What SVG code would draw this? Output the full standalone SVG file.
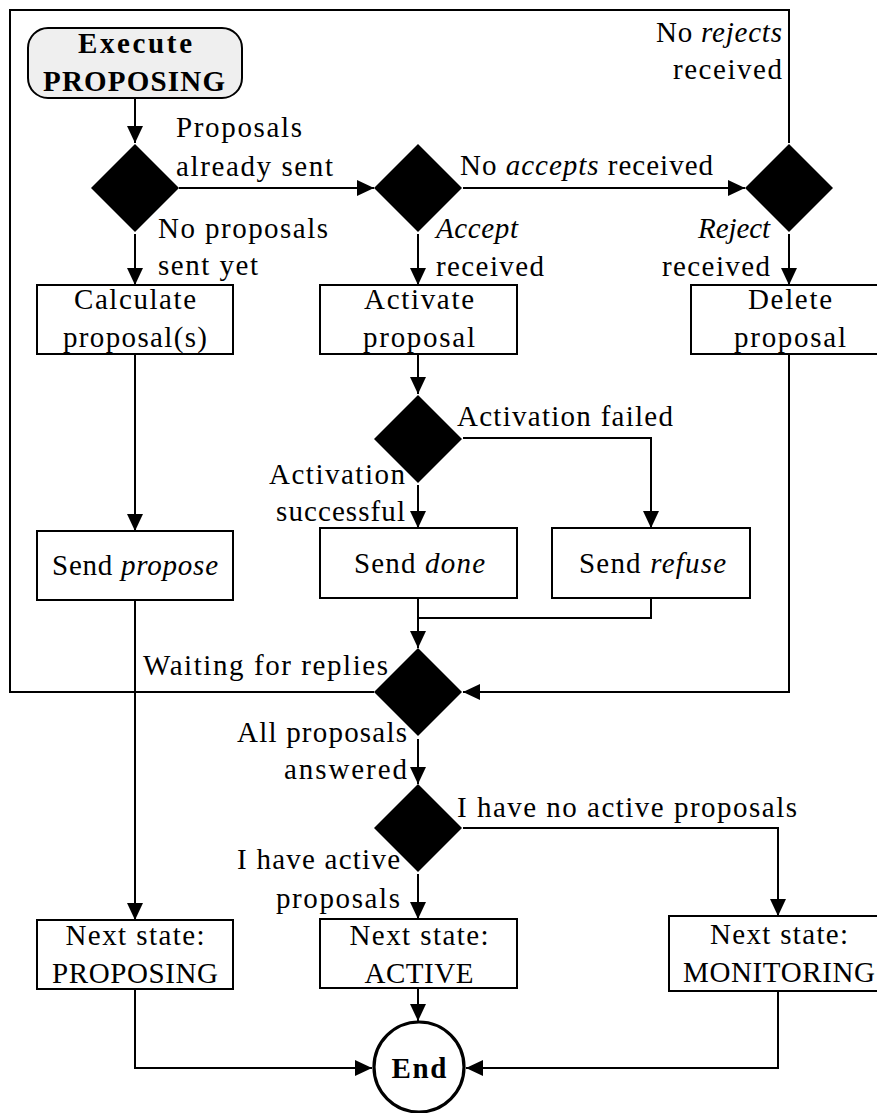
<svg xmlns="http://www.w3.org/2000/svg" width="877" height="1113" viewBox="0 0 877 1113">
  <style>
    text { font-family: "Liberation Serif", "Times New Roman", serif; font-size: 29px; fill: #000; }
    .b { font-weight: bold; }
    .m { text-anchor: middle; }
    .e { text-anchor: end; }
    .i { font-style: italic; }
    .box { fill: #fff; stroke: #000; stroke-width: 2; }
    .start { fill: #efefef; stroke: #000; stroke-width: 2; }
    .dec { fill: #000; }
    .end { fill: #fff; stroke: #000; stroke-width: 3.2; }
    .edge { fill: none; stroke: #000; stroke-width: 2; }
  </style>
  <defs>
    <marker id="arrow" markerUnits="userSpaceOnUse" markerWidth="18" markerHeight="16" refX="17" refY="8" orient="auto">
      <path d="M0,0 L17,8 L0,16 Z" fill="#000"/>
    </marker>
  </defs>

  <!-- connectors -->
  <g id="connectors">
    <path class="edge" d="M135,98 V143" marker-end="url(#arrow)"/>
    <path class="edge" d="M179,188 H374" marker-end="url(#arrow)"/>
    <path class="edge" d="M463,188 H745" marker-end="url(#arrow)"/>
    <path class="edge" d="M135,234 V285" marker-end="url(#arrow)"/>
    <path class="edge" d="M418,234 V285" marker-end="url(#arrow)"/>
    <path class="edge" d="M789,234 V285" marker-end="url(#arrow)"/>
    <path class="edge" d="M418,354 V394" marker-end="url(#arrow)"/>
    <path class="edge" d="M418,485 V528" marker-end="url(#arrow)"/>
    <path class="edge" d="M463,438 H651 V528" marker-end="url(#arrow)"/>
    <path class="edge" d="M135,354 V531" marker-end="url(#arrow)"/>
    <path class="edge" d="M418,598 V648" marker-end="url(#arrow)"/>
    <path class="edge" d="M651,598 V618 H418"/>
    <path class="edge" d="M789,354 V692 H463" marker-end="url(#arrow)"/>
    <path class="edge" d="M374,692 H10 V10 H789 V143"/>
    <path class="edge" d="M135,600 V920" marker-end="url(#arrow)"/>
    <path class="edge" d="M418,739 V784" marker-end="url(#arrow)"/>
    <path class="edge" d="M463,828 H778 V916" marker-end="url(#arrow)"/>
    <path class="edge" d="M418,874 V919" marker-end="url(#arrow)"/>
    <path class="edge" d="M418,988 V1021" marker-end="url(#arrow)"/>
    <path class="edge" d="M135,989 V1068 H372" marker-end="url(#arrow)"/>
    <path class="edge" d="M778,991 V1068 H466" marker-end="url(#arrow)"/>
  </g>

  <!-- start node -->
  <g id="start">
    <rect class="start" x="28" y="28" width="214" height="70" rx="20"/>
    <text class="b m" x="135" y="53" textLength="114">Execute</text>
    <text class="b m" x="134" y="91" textLength="182">PROPOSING</text>
  </g>

  <!-- decisions -->
  <g id="d-sent">
    <path class="dec" d="M135,144 L179,188 L135,232 L91,188 Z"/>
    <text x="176" y="137" textLength="126">Proposals</text>
    <text x="176" y="176" textLength="157">already sent</text>
    <text x="158" y="238" textLength="170">No proposals</text>
    <text x="158" y="275" textLength="100">sent yet</text>
  </g>
  <g id="d-accept">
    <path class="dec" d="M418,144 L462,188 L418,232 L374,188 Z"/>
    <text x="460" y="175" textLength="253">No <tspan class="i">accepts</tspan> received</text>
    <text class="i" x="436" y="238" textLength="82">Accept</text>
    <text x="436" y="276" textLength="108">received</text>
  </g>
  <g id="d-reject">
    <path class="dec" d="M789,144 L833,188 L789,232 L745,188 Z"/>
    <text class="i e" x="770" y="238" textLength="72">Reject</text>
    <text class="e" x="770" y="276" textLength="108">received</text>
    <text class="e" x="782" y="42" textLength="126">No <tspan class="i">rejects</tspan></text>
    <text class="e" x="782" y="79" textLength="109">received</text>
  </g>
  <g id="d-activation">
    <path class="dec" d="M418,395 L462,439 L418,483 L374,439 Z"/>
    <text x="457" y="426" textLength="216">Activation failed</text>
    <text class="e" x="405" y="484" textLength="136">Activation</text>
    <text class="e" x="405" y="521" textLength="129">successful</text>
  </g>
  <g id="d-waiting">
    <path class="dec" d="M418,648 L462,692 L418,736 L374,692 Z"/>
    <text x="143" y="675" textLength="245">Waiting for replies</text>
    <text class="e" x="407" y="742" textLength="170">All proposals</text>
    <text class="e" x="407" y="779" textLength="123">answered</text>
  </g>
  <g id="d-active">
    <path class="dec" d="M418,784 L462,828 L418,872 L374,828 Z"/>
    <text x="457" y="817" textLength="340">I have no active proposals</text>
    <text class="e" x="400" y="869" textLength="163">I have active</text>
    <text class="e" x="400" y="908" textLength="124">proposals</text>
  </g>

  <!-- actions -->
  <g id="calculate">
    <rect class="box" x="37" y="285" width="196" height="69"/>
    <text class="m" x="135" y="309" textLength="122">Calculate</text>
    <text class="m" x="135" y="347" textLength="144">proposal(s)</text>
  </g>
  <g id="activate">
    <rect class="box" x="320" y="285" width="197" height="69"/>
    <text class="m" x="419" y="309" textLength="110">Activate</text>
    <text class="m" x="419" y="347" textLength="112">proposal</text>
  </g>
  <g id="delete">
    <rect class="box" x="691" y="285" width="197" height="69"/>
    <text class="m" x="790" y="309" textLength="84">Delete</text>
    <text class="m" x="790" y="347" textLength="112">proposal</text>
  </g>
  <g id="send-propose">
    <rect class="box" x="37" y="531" width="196" height="69"/>
    <text x="52" y="575" textLength="166">Send <tspan class="i">propose</tspan></text>
  </g>
  <g id="send-done">
    <rect class="box" x="320" y="528" width="197" height="70"/>
    <text x="354" y="573" textLength="131">Send <tspan class="i">done</tspan></text>
  </g>
  <g id="send-refuse">
    <rect class="box" x="552" y="528" width="198" height="70"/>
    <text x="579" y="573" textLength="147">Send <tspan class="i">refuse</tspan></text>
  </g>
  <g id="next-proposing">
    <rect class="box" x="37" y="920" width="196" height="69"/>
    <text class="m" x="135" y="945" textLength="139">Next state:</text>
    <text class="m" x="135" y="983" textLength="166">PROPOSING</text>
  </g>
  <g id="next-active">
    <rect class="box" x="320" y="919" width="197" height="69"/>
    <text class="m" x="419" y="945" textLength="139">Next state:</text>
    <text class="m" x="419" y="983" textLength="109">ACTIVE</text>
  </g>
  <g id="next-monitoring">
    <rect class="box" x="669" y="916" width="220" height="75"/>
    <text x="710" y="944" textLength="138">Next state:</text>
    <text x="683" y="982" textLength="192">MONITORING</text>
  </g>

  <!-- end node -->
  <g id="end">
    <circle class="end" cx="419" cy="1067" r="45"/>
    <text class="b m" x="419" y="1078" textLength="55">End</text>
  </g>
</svg>
